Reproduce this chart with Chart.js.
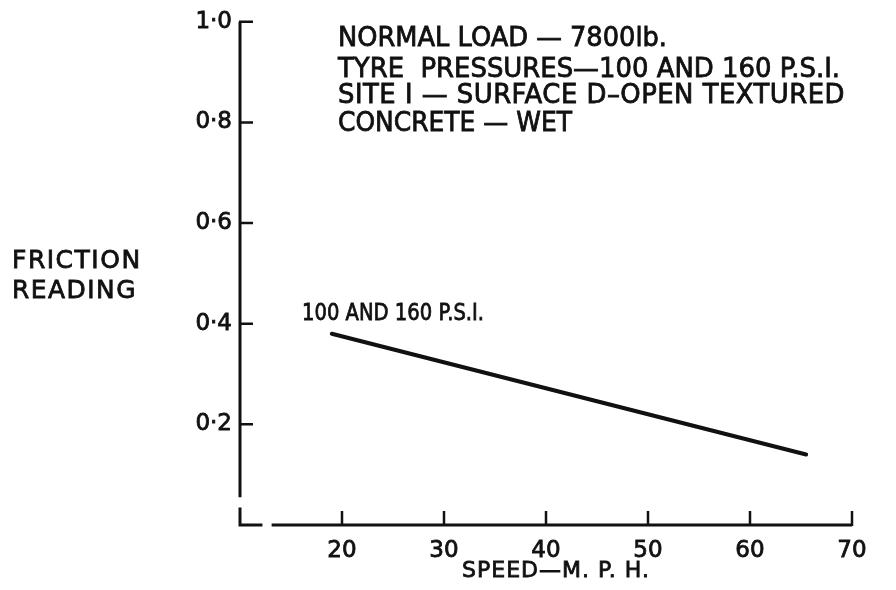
<!DOCTYPE html>
<html>
<head>
<meta charset="utf-8">
<script src="https://cdn.jsdelivr.net/npm/chart.js@4"></script>
<style>
body{margin:0;background:#fff;}
</style>
</head>
<body>
<canvas id="graph" width="896" height="590"></canvas>
<script>
var speed = [19, 65.5];          // M.P.H.
var friction = [0.38, 0.14];     // friction reading
var yTicks = [0.2, 0.4, 0.6, 0.8, 1.0];
var xTicks = [20, 30, 40, 50, 60, 70];
var notes = ['NORMAL LOAD \u2014 7800lb.', 'TYRE  PRESSURES\u2014100 AND 160 P.S.I.', 'SITE I \u2014 SURFACE D\u2013OPEN TEXTURED', 'CONCRETE \u2014 WET'];
var lineLabel = '100 AND 160 P.S.I.';
var yTitle = ['FRICTION', 'READING'];
var xTitle = 'SPEED\u2014M. P. H.';

var ink = '#111';
var font = '"DejaVu Sans", sans-serif';

// write a bit heavier than the plain font, like the stencil lettering
function letter(ctx, t, x, y, w) {
  ctx.fillText(t, x, y, w);
  ctx.strokeText(t, x, y, w);
}

// axes, tick marks and the hand lettering are drawn here
const drawing = {
  id: 'drawing',
  afterDraw(chart) {
    const ctx = chart.ctx, x = chart.scales.x, y = chart.scales.y;
    const x0 = x.getPixelForValue(10), y0 = y.getPixelForValue(0);
    ctx.save();
    ctx.strokeStyle = ink;
    ctx.lineWidth = 3;
    ctx.beginPath();
    ctx.moveTo(x0, y.getPixelForValue(1)); ctx.lineTo(x0, y.getPixelForValue(0.055));
    ctx.moveTo(x0, y.getPixelForValue(0.035)); ctx.lineTo(x0, y0); ctx.lineTo(x.getPixelForValue(12.2), y0);
    ctx.moveTo(x.getPixelForValue(13.1), y0); ctx.lineTo(x.getPixelForValue(70), y0);
    ctx.stroke();
    ctx.lineWidth = 2.5;
    ctx.beginPath();
    yTicks.forEach(v => { const p = y.getPixelForValue(v); ctx.moveTo(x0 - 1, p); ctx.lineTo(x0 + 13, p); });
    xTicks.forEach(v => { const p = x.getPixelForValue(v); ctx.moveTo(p, y0 + 1); ctx.lineTo(p, y0 - 14); });
    ctx.stroke();

    ctx.fillStyle = ink;
    ctx.lineWidth = 0.8;
    ctx.textBaseline = 'alphabetic';
    ctx.textAlign = 'left';
    ctx.font = '26px ' + font;
    var base = [46, 77, 103, 131], widths = [329, 502, 507, 234];
    notes.forEach((t, i) => {
      ctx.letterSpacing = i == 2 ? '0.5px' : '0px';
      letter(ctx, t, 338, base[i], widths[i]);
    });

    ctx.font = '25px ' + font;
    ctx.letterSpacing = '1.5px';
    letter(ctx, yTitle[0], 12, 268, 131);
    letter(ctx, yTitle[1], 12, 298, 125);

    ctx.letterSpacing = '0px';
    ctx.font = '23px ' + font;
    letter(ctx, lineLabel, 302, 320, 182);

    ctx.font = '22px ' + font;
    ctx.letterSpacing = '1px';
    ctx.textAlign = 'center';
    letter(ctx, xTitle, 556, 577, 207);
    ctx.restore();
  }
};

new Chart(document.getElementById('graph'), {
  type: 'scatter',
  data: {
    datasets: [{
      data: speed.map((s, i) => ({x: s, y: friction[i]})),
      showLine: true,
      borderColor: ink,
      borderWidth: 4,
      pointRadius: 0,
      borderCapStyle: 'round'
    }]
  },
  options: {
    responsive: false,
    animation: false,
    layout: {padding: {top: 19, right: 44, left: 0, bottom: 0}},
    plugins: {legend: {display: false}, tooltip: {enabled: false}},
    scales: {
      x: {
        type: 'linear', min: 10, max: 70,
        afterBuildTicks: s => { s.ticks = xTicks.map(v => ({value: v})); },
        afterFit: s => { s.height = 65; },
        grid: {display: false, drawTicks: false},
        border: {display: false},
        ticks: {color: ink, padding: 12, font: {size: 23, family: font},
          textStrokeColor: ink, textStrokeWidth: 0.8}
      },
      y: {
        min: 0, max: 1,
        afterBuildTicks: s => { s.ticks = yTicks.map(v => ({value: v})); },
        afterFit: s => { s.width = 240; },
        grid: {display: false, drawTicks: false},
        border: {display: false},
        ticks: {color: ink, padding: 8, font: {size: 23, family: font},
          textStrokeColor: ink, textStrokeWidth: 0.8,
          callback: v => v.toFixed(1).replace('.', '\u00b7')}
      }
    }
  },
  plugins: [drawing]
});
</script>
</body>
</html>
